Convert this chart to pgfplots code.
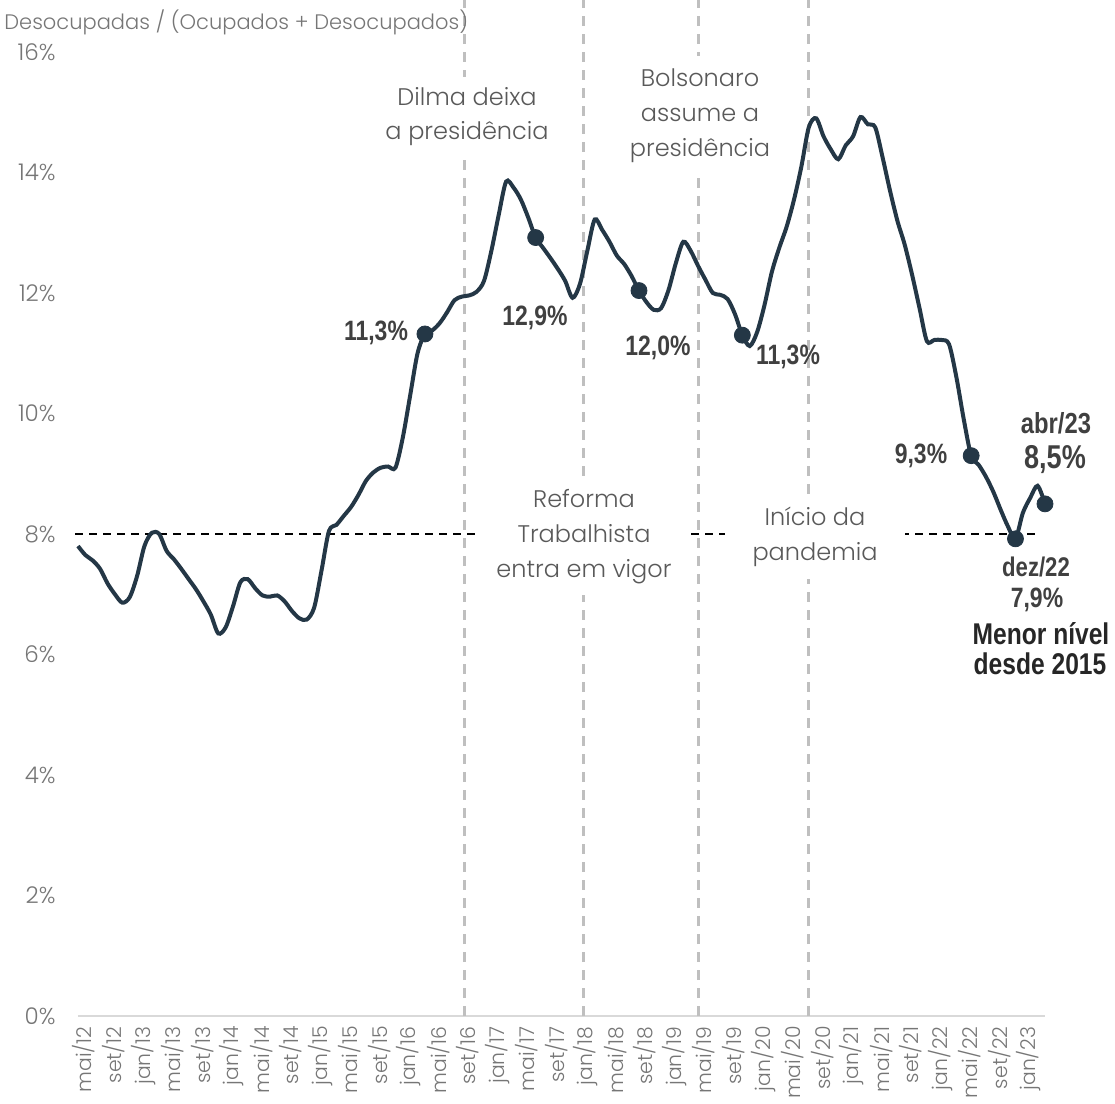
\documentclass[border=0pt]{standalone}
\usepackage{fontspec}
\setmainfont{Poppins}[UprightFont={* Light}]
\newfontfamily\cond{Liberation Sans}[FakeStretch=0.82]
\usepackage{pgfplots}
\pgfplotsset{compat=1.18}
\definecolor{navy}{HTML}{243746}
\definecolor{tickgray}{HTML}{767676}
\definecolor{anngray}{HTML}{595959}
\definecolor{vline}{HTML}{BFBFBF}
\definecolor{axgray}{HTML}{D9D9D9}
\definecolor{lbl}{HTML}{404040}
\definecolor{dark}{HTML}{262626}
\newcommand\px[2]{({(#1-78)*0.5pt},{(1016-#2)*0.5pt})}
\pgfplotstableread{
m v
0 7.80
1 7.65
2 7.56
3 7.42
4 7.18
5 7.00
6 6.86
7 6.95
8 7.30
9 7.80
10 8.02
11 8.00
12 7.72
13 7.58
14 7.42
15 7.25
16 7.08
17 6.88
18 6.66
19 6.35
20 6.45
21 6.80
22 7.20
23 7.25
24 7.10
25 6.98
26 6.96
27 6.98
28 6.88
29 6.72
30 6.60
31 6.58
32 6.78
33 7.40
34 8.05
35 8.15
36 8.30
37 8.45
38 8.65
39 8.88
40 9.02
41 9.10
42 9.12
43 9.10
44 9.60
45 10.30
46 11.00
47 11.32
48 11.38
49 11.50
50 11.68
51 11.88
52 11.94
53 11.96
54 12.02
55 12.20
56 12.70
57 13.30
58 13.85
59 13.75
60 13.55
61 13.25
62 12.92
63 12.75
64 12.58
65 12.40
66 12.20
67 11.92
68 12.15
69 12.70
70 13.22
71 13.05
72 12.85
73 12.62
74 12.48
75 12.28
76 12.04
77 11.85
78 11.72
79 11.75
80 12.05
81 12.50
82 12.85
83 12.70
84 12.45
85 12.22
86 12.00
87 11.97
88 11.90
89 11.65
90 11.30
91 11.12
92 11.35
93 11.80
94 12.35
95 12.75
96 13.10
97 13.55
98 14.10
99 14.75
100 14.90
101 14.60
102 14.38
103 14.22
104 14.45
105 14.60
106 14.92
107 14.80
108 14.75
109 14.25
110 13.70
111 13.20
112 12.80
113 12.30
114 11.75
115 11.20
116 11.22
117 11.22
118 11.15
119 10.60
120 9.90
121 9.30
122 9.15
123 8.95
124 8.70
125 8.40
126 8.12
127 7.92
128 8.35
129 8.60
130 8.80
131 8.50
}\unemp
\begin{document}
\begin{tikzpicture}
\path[use as bounding box] \px{0}{1104} rectangle \px{1115}{0};
\begin{axis}[
  at={(0,0)}, anchor=south west,
  scale only axis, width=483.5pt, height=482pt,
  xmin=0, xmax=131, ymin=0, ymax=16,
  clip=false,
  axis x line*=bottom, axis y line*=left,
  x axis line style={draw=axgray, line width=1pt, -},
  y axis line style={draw=none},
  major tick length=0pt,
  xtick={0,4,...,128},
  xticklabels={mai/12,set/12,jan/13,mai/13,set/13,jan/14,mai/14,set/14,jan/15,mai/15,set/15,jan/16,mai/16,set/16,jan/17,mai/17,set/17,jan/18,mai/18,set/18,jan/19,mai/19,set/19,jan/20,mai/20,set/20,jan/21,mai/21,set/21,jan/22,mai/22,set/22,jan/23},
  x tick label style={rotate=90, anchor=east, font=\fontsize{10.2}{11}\selectfont, text=tickgray, inner sep=0pt, xshift=-5pt, yshift=-3pt},
  ytick={0,2,...,16},
  yticklabels={0\%,2\%,4\%,6\%,8\%,10\%,12\%,14\%,16\%},
  y tick label style={anchor=east, xshift=-11pt, inner sep=0pt, font=\fontsize{11.5}{12}\selectfont, text=tickgray},
]
\addplot[vline, line width=1.5pt, dash pattern=on 5pt off 4pt] coordinates {(52.4,0) (52.4,16.86)};
\addplot[vline, line width=1.5pt, dash pattern=on 5pt off 4pt] coordinates {(68.5,0) (68.5,16.86)};
\addplot[vline, line width=1.5pt, dash pattern=on 5pt off 4pt] coordinates {(84,0) (84,16.86)};
\addplot[vline, line width=1.5pt, dash pattern=on 5pt off 4pt] coordinates {(99,0) (99,16.86)};
\addplot[black, line width=1pt, dash pattern=on 4pt off 3pt] coordinates {(-0.4,8) (130.3,8)};
\addplot[navy, line width=2pt, smooth, tension=0.5] table[x=m, y=v] {\unemp};
\addplot[only marks, mark=*, mark size=4pt, navy] coordinates {(47,11.32) (62,12.92) (76,12.04) (90,11.30) (121,9.30) (127,7.92) (131,8.50)};
\end{axis}
\node[anchor=west, text=tickgray, font=\fontsize{10.5}{12}\selectfont, inner sep=0pt] at \px{4}{22} {Desocupadas / (Ocupados + Desocupados)};
\node[fill=white, minimum width=84pt, minimum height=40pt, align=center, text=anngray, font=\fontsize{12}{17}\selectfont] at \px{467}{117} {Dilma deixa\\a presidência};
\node[fill=white, minimum width=70pt, minimum height=60pt, align=center, text=anngray, font=\fontsize{12}{17.5}\selectfont] at \px{700}{116} {Bolsonaro\\assume a\\presidência};
\node[fill=white, minimum width=106pt, minimum height=58pt, align=center, text=anngray, font=\fontsize{12}{17.5}\selectfont] at \px{584}{537} {Reforma\\Trabalhista\\entra em vigor};
\node[fill=white, minimum width=90pt, minimum height=42pt, align=center, text=anngray, font=\fontsize{12}{17.5}\selectfont] at \px{815}{537} {Início da\\pandemia};
\begin{scope}[every node/.style={text=lbl, inner sep=0pt, font=\cond\bfseries\fontsize{14}{15}\selectfont}]
\node at \px{376}{333} {11,3\%};
\node at \px{535}{318} {12,9\%};
\node at \px{658}{348} {12,0\%};
\node at \px{788}{357} {11,3\%};
\node at \px{921}{456} {9,3\%};
\node[font=\cond\bfseries\fontsize{14.5}{15}\selectfont] at \px{1056}{423} {abr/23};
\node[font=\cond\bfseries\fontsize{16.5}{18}\selectfont] at \px{1055}{460} {8,5\%};
\node[font=\cond\bfseries\fontsize{13.5}{15}\selectfont] at \px{1036}{567} {dez/22};
\node[font=\cond\bfseries\fontsize{14}{15}\selectfont] at \px{1037}{600} {7,9\%};
\node[text=dark, font=\cond\bfseries\fontsize{15}{16}\selectfont] at \px{1041}{634} {Menor nível};
\node[text=dark, font=\cond\bfseries\fontsize{15}{16}\selectfont] at \px{1040}{664} {desde 2015};
\end{scope}
\end{tikzpicture}
\end{document}
